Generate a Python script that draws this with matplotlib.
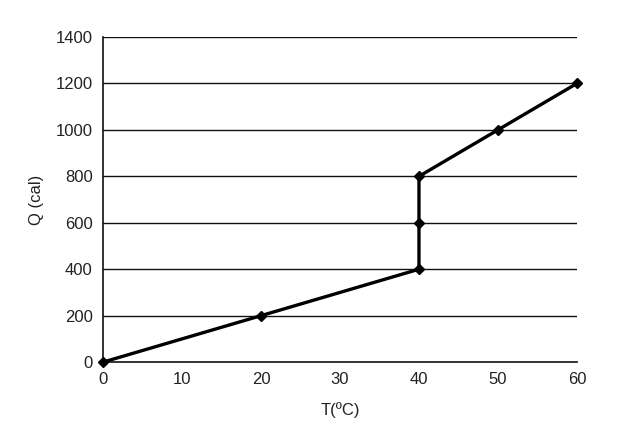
import matplotlib
matplotlib.use("Agg")
import matplotlib.pyplot as plt

plt.rcParams['font.family'] = ['Liberation Sans', 'DejaVu Sans']

T = [0, 20, 40, 40, 40, 50, 60]
Q = [0, 200, 400, 600, 800, 1000, 1200]
xticks = [0, 10, 20, 30, 40, 50, 60]
yticks = [0, 200, 400, 600, 800, 1000, 1200, 1400]

fig = plt.figure(figsize=(6.34, 4.4), dpi=100)
ax = fig.add_axes([0.1625, 0.177, 0.7475, 0.739])
for y in yticks[1:]:
    ax.axhline(y, color='#111111', lw=1.0, zorder=1)
ax.plot(T, Q, color='black', lw=2.4, marker='D', markersize=5.5, zorder=3, clip_on=False)
ax.set_xlim(0, 60)
ax.set_ylim(0, 1400)
ax.set_xticks(xticks)
ax.set_yticks(yticks)
ax.tick_params(axis='y', length=0, labelsize=12, pad=7.5, colors='#222222')
ax.tick_params(axis='x', length=0, labelsize=12, pad=7, colors='#222222')
for s in ['top', 'right']:
    ax.spines[s].set_visible(False)
for s in ['left', 'bottom']:
    ax.spines[s].set_linewidth(1.2)
    ax.spines[s].set_color('#111111')
ax.set_xlabel('T(ºC)', fontsize=12, labelpad=11, color='#222222')
ax.set_ylabel('Q (cal)', fontsize=12, labelpad=8, color='#222222')
fig.savefig('out.png', dpi=100)
